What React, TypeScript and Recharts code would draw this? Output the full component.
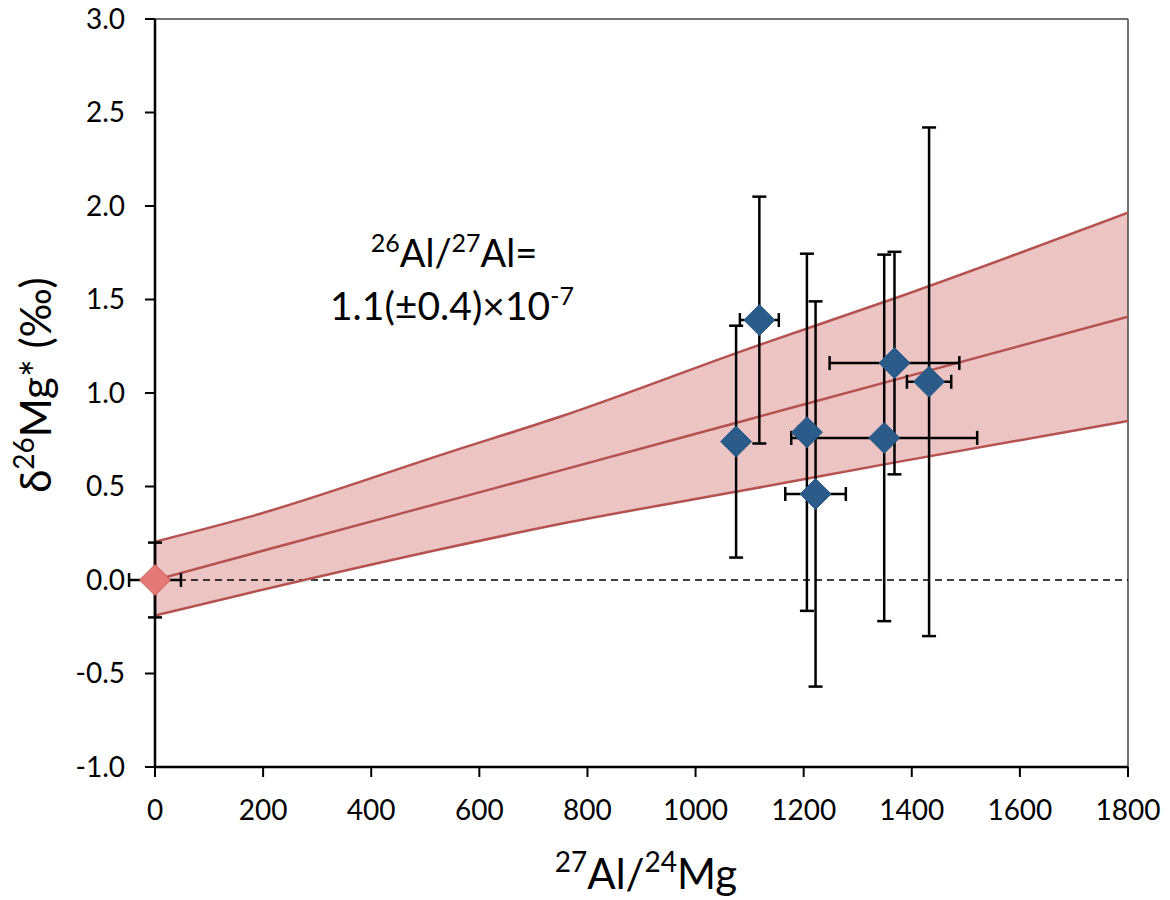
import { ComposedChart, XAxis, YAxis, Area, Line, Scatter, ErrorBar, ReferenceLine, Customized } from 'recharts';

// isochron fit: best-fit line and its (curved) confidence band, read at several x positions
const FIT_X = [0, 176, 545, 749, 1100, 1377, 1800];
const FIT_LOW = [-0.19, -0.068, 0.175, 0.299, 0.485, 0.633, 0.85];
const FIT_HIGH = [0.205, 0.339, 0.684, 0.873, 1.239, 1.515, 1.964];
const FIT_MID = [0, 0.138, 0.426, 0.585, 0.86, 1.077, 1.408];

// measured spots
const SPOT_X = [1075, 1118, 1206, 1222, 1349, 1368, 1432];
const SPOT_Y = [0.74, 1.39, 0.79, 0.46, 0.76, 1.16, 1.06];
const SPOT_XERR = [10, 36, 15, 56, 172, 120, 41];
const SPOT_YERR = [0.62, 0.66, 0.955, 1.03, 0.98, 0.595, 1.36];

// terrestrial standard
const STD_X = [0];
const STD_Y = [0];
const STD_XERR = [48];
const STD_YERR = [0.2];

const X_TICKS = [0, 200, 400, 600, 800, 1000, 1200, 1400, 1600, 1800];
const Y_TICKS = [-1, -0.5, 0, 0.5, 1, 1.5, 2, 2.5, 3];

const FONT = 'Lato, "Noto Sans", sans-serif';
const BAND_FILL = '#ecc4c3';
const BAND_LINE = '#b5524f';
const BLUE = '#2a5b89';

const fitData = FIT_X.map((x, i) => ({
  x,
  band: [FIT_LOW[i], FIT_HIGH[i]],
  low: FIT_LOW[i],
  high: FIT_HIGH[i],
  mid: FIT_MID[i],
}));

const spots = SPOT_X.map((x, i) => ({ x, y: SPOT_Y[i], ex: SPOT_XERR[i], ey: SPOT_YERR[i] }));
const standard = STD_X.map((x, i) => ({ x, y: STD_Y[i], ex: STD_XERR[i], ey: STD_YERR[i] }));

const diamond = (fill: string, stroke: string) => (props: any) => {
  const { cx, cy } = props;
  const r = 15.5;
  return (
    <polygon
      points={`${cx},${cy - r} ${cx + r},${cy} ${cx},${cy + r} ${cx - r},${cy}`}
      fill={fill}
      stroke={stroke}
      strokeWidth={1}
    />
  );
};

function Annotation() {
  return (
    <g fontFamily={FONT} fill="#000" textAnchor="middle">
      <text x={454} y={267} fontSize={38}>
        <tspan fontSize={25} dy={-15}>26</tspan>
        <tspan dy={15}>Al/</tspan>
        <tspan fontSize={25} dy={-15}>27</tspan>
        <tspan dy={15}>Al=</tspan>
      </text>
      <text x={452} y={320} fontSize={39}>
        <tspan>1.1(±0.4)×10</tspan>
        <tspan fontSize={25} dy={-15}>-7</tspan>
      </text>
    </g>
  );
}

const XLabel = () => (
  <text x={646} y={889} textAnchor="middle" fontFamily={FONT} fontSize={42} fill="#000">
    <tspan fontSize={28} dy={-17}>27</tspan>
    <tspan dy={17}>Al/</tspan>
    <tspan fontSize={28} dy={-17}>24</tspan>
    <tspan dy={17}>Mg</tspan>
  </text>
);

const YLabel = () => (
  <text
    x={0}
    y={0}
    transform="translate(51,385) rotate(-90)"
    textAnchor="middle"
    fontFamily={FONT}
    fontSize={42}
    fill="#000"
  >
    <tspan>δ</tspan>
    <tspan fontSize={28} dy={-17}>26</tspan>
    <tspan dy={17}>Mg* (‰)</tspan>
  </text>
);

export default function App() {
  return (
    <div style={{ position: 'absolute', left: 0, top: 0, width: 1170, height: 900, background: '#fff' }}>
      <style>{`.recharts-scatter, .recharts-scatter * { clip-path: none !important; }`}</style>
      <ComposedChart width={1170} height={900} data={fitData} margin={{ top: 19, right: 42, bottom: 73, left: 0 }}>
        <XAxis
          dataKey="x"
          type="number"
          domain={[0, 1800]}
          ticks={X_TICKS}
          interval={0}
          allowDataOverflow
          height={60}
          tickSize={10}
          tickMargin={23}
          axisLine={{ stroke: '#000', strokeWidth: 2.5 }}
          tickLine={{ stroke: '#000', strokeWidth: 2 }}
          tick={{ fill: '#000', fontSize: 28, fontFamily: FONT }}
          label={{ content: XLabel }}
        />
        <YAxis
          type="number"
          domain={[-1, 3]}
          ticks={Y_TICKS}
          interval={0}
          allowDataOverflow
          width={155}
          tickSize={10}
          tickMargin={20}
          tickFormatter={(v: number) => v.toFixed(1)}
          axisLine={{ stroke: '#000', strokeWidth: 2.5 }}
          tickLine={{ stroke: '#000', strokeWidth: 2 }}
          tick={{ fill: '#000', fontSize: 28, fontFamily: FONT }}
          label={{ content: YLabel }}
        />
        <ReferenceLine y={3} stroke="#444" strokeWidth={1.5} />
        <ReferenceLine x={1800} stroke="#444" strokeWidth={1.5} />
        <Area dataKey="band" type="monotone" stroke="none" fill={BAND_FILL} fillOpacity={1} isAnimationActive={false} />
        <ReferenceLine y={0} stroke="#000" strokeWidth={1.5} strokeDasharray="7 5" />
        <Line dataKey="high" type="monotone" stroke={BAND_LINE} strokeWidth={2.5} dot={false} isAnimationActive={false} />
        <Line dataKey="mid" type="monotone" stroke={BAND_LINE} strokeWidth={2.5} dot={false} isAnimationActive={false} />
        <Line dataKey="low" type="monotone" stroke={BAND_LINE} strokeWidth={2.5} dot={false} isAnimationActive={false} />
        <Scatter data={spots} dataKey="y" shape={diamond(BLUE, BLUE)} isAnimationActive={false}>
          <ErrorBar dataKey="ey" direction="y" width={7} stroke="#000" strokeWidth={2.5} />
          <ErrorBar dataKey="ex" direction="x" width={7} stroke="#000" strokeWidth={2.5} />
        </Scatter>
        <Scatter data={standard} dataKey="y" shape={diamond('#e37a76', '#c65b57')} isAnimationActive={false}>
          <ErrorBar dataKey="ey" direction="y" width={7} stroke="#000" strokeWidth={2.5} />
          <ErrorBar dataKey="ex" direction="x" width={7} stroke="#000" strokeWidth={2.5} />
        </Scatter>
        <Customized component={Annotation} />
      </ComposedChart>
    </div>
  );
}
